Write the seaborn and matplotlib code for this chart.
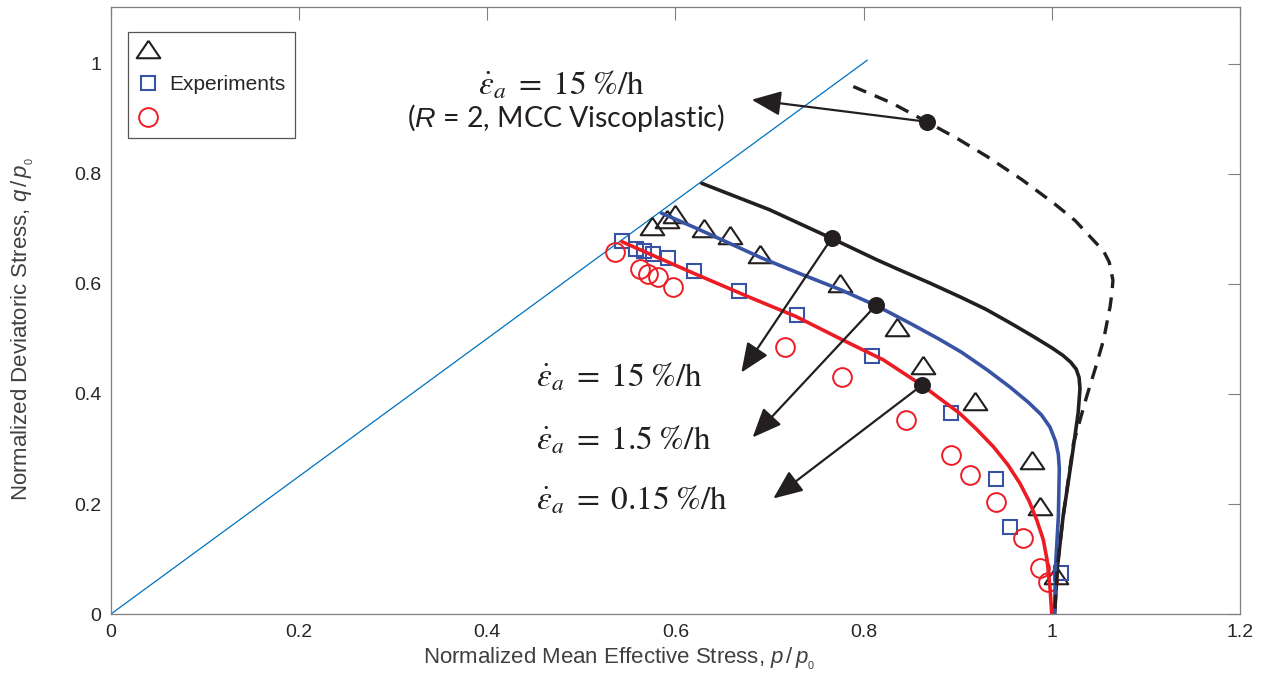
import numpy as np
import matplotlib
matplotlib.use("Agg")
import matplotlib.pyplot as plt
import seaborn as sns

# ---------------------------------------------------------------
# data (p/p0 , q/p0)
# ---------------------------------------------------------------
csl_p = [0.0, 0.804]
csl_q = [0.0, 1.007]

# experiments
tri_p = [0.575, 0.591, 0.600, 0.630, 0.658, 0.690, 0.775, 0.835, 0.863, 0.918, 0.979, 0.987, 1.005]
tri_q = [0.706, 0.718, 0.728, 0.701, 0.689, 0.654, 0.601, 0.522, 0.453, 0.388, 0.280, 0.196, 0.071]
sq_p = [0.543, 0.558, 0.567, 0.576, 0.592, 0.620, 0.668, 0.729, 0.809, 0.893, 0.941, 0.956, 1.010]
sq_q = [0.678, 0.664, 0.660, 0.655, 0.647, 0.624, 0.587, 0.544, 0.469, 0.365, 0.245, 0.159, 0.074]
circ_p = [0.536, 0.562, 0.571, 0.581, 0.597, 0.716, 0.777, 0.845, 0.893, 0.913, 0.941, 0.969, 0.987, 0.996]
circ_q = [0.659, 0.627, 0.619, 0.612, 0.595, 0.486, 0.431, 0.353, 0.289, 0.253, 0.204, 0.138, 0.083, 0.059]

# simulations
sim15_p = [0.628, 0.700, 0.766, 0.814, 0.839, 0.870, 0.902, 0.930, 0.956, 0.980, 1.000, 1.012, 1.020,
           1.026, 1.029, 1.030, 1.028, 1.021, 1.012, 1.006, 1.003]
sim15_q = [0.783, 0.735, 0.683, 0.644, 0.625, 0.602, 0.577, 0.554, 0.529, 0.505, 0.484, 0.470, 0.458,
           0.445, 0.430, 0.410, 0.365, 0.280, 0.177, 0.086, 0.000]
sim1p5_p = [0.585, 0.620, 0.660, 0.692, 0.732, 0.775, 0.813, 0.850, 0.880, 0.904, 0.932, 0.956, 0.975,
            0.989, 0.998, 1.004, 1.007, 1.008, 1.007, 1.004, 1.003]
sim1p5_q = [0.729, 0.703, 0.672, 0.647, 0.619, 0.590, 0.561, 0.528, 0.500, 0.476, 0.443, 0.412, 0.385,
            0.362, 0.340, 0.314, 0.290, 0.265, 0.177, 0.086, 0.000]
sim015_p = [0.543, 0.580, 0.620, 0.680, 0.728, 0.778, 0.821, 0.862, 0.902, 0.920, 0.938, 0.953, 0.966,
            0.976, 0.984, 0.991, 0.995, 0.998, 1.000]
sim015_q = [0.677, 0.649, 0.619, 0.575, 0.541, 0.498, 0.462, 0.416, 0.365, 0.336, 0.304, 0.272, 0.238,
            0.205, 0.171, 0.135, 0.098, 0.050, 0.000]
mcc_p = [0.789, 0.830, 0.867, 0.900, 0.931, 0.968, 1.002, 1.025, 1.044, 1.055, 1.061, 1.065, 1.064,
         1.062, 1.055, 1.046, 1.037, 1.023, 1.012, 1.006, 1.003]
mcc_q = [0.959, 0.929, 0.895, 0.864, 0.832, 0.790, 0.747, 0.715, 0.680, 0.660, 0.640, 0.607, 0.585,
         0.559, 0.498, 0.445, 0.395, 0.310, 0.177, 0.086, 0.000]

# marked points and arrow tips
dot_p = [0.867, 0.766, 0.813, 0.862]
dot_q = [0.895, 0.683, 0.561, 0.416]
tip_p = [0.681, 0.670, 0.682, 0.704]
tip_q = [0.935, 0.439, 0.321, 0.210]

rate_labels = [r'$\dot{\varepsilon}_a\;=\;15\;\%/\mathrm{h}$',
               r'$\dot{\varepsilon}_a\;=\;1.5\;\%/\mathrm{h}$',
               r'$\dot{\varepsilon}_a\;=\;0.15\;\%/\mathrm{h}$']
rate_q = [0.431, 0.316, 0.207]

xticks = [0, 0.2, 0.4, 0.6, 0.8, 1.0, 1.2]
yticks = [0, 0.2, 0.4, 0.6, 0.8, 1.0]

# ---------------------------------------------------------------
sns.set_theme(style="white")
plt.rcParams['font.family'] = ['Liberation Sans', 'DejaVu Sans']
plt.rcParams['mathtext.fontset'] = 'stix'
plt.rcParams['mathtext.it'] = 'Liberation Sans:italic'
plt.rcParams['mathtext.rm'] = 'Liberation Sans'

BLACK = '#231f20'
BLUE = '#3953a4'
RED = '#ed1c24'
GREY = '#7f7f7f'
TXT = '#262626'

fig = plt.figure(figsize=(12.65, 6.92), dpi=100)
ax = fig.add_axes([0.0877, 0.1127, 0.8925, 0.8772])

# critical state line
sns.lineplot(x=csl_p, y=csl_q, color='#0072bd', lw=0.9, sort=False, estimator=None, ax=ax)

# experiments
tri_marker = [(0, 0.74), (-1, -0.74), (1, -0.74), (0, 0.74)]
sns.lineplot(x=tri_p, y=tri_q, sort=False, estimator=None, ax=ax, linestyle='',
             marker=tri_marker, ms=17, mfc='none', mec=BLACK, mew=1.5)
sns.lineplot(x=sq_p, y=sq_q, sort=False, estimator=None, ax=ax, linestyle='',
             marker='s', ms=10.5, mfc='none', mec=BLUE, mew=1.5)
sns.lineplot(x=circ_p, y=circ_q, sort=False, estimator=None, ax=ax, linestyle='',
             marker='o', ms=13.5, mfc='none', mec=RED, mew=1.4)
exp_handles = ax.lines[-3:]

# simulations
sns.lineplot(x=sim15_p, y=sim15_q, sort=False, estimator=None, color=BLACK, lw=2.6, ax=ax)
sns.lineplot(x=sim1p5_p, y=sim1p5_q, sort=False, estimator=None, color=BLUE, lw=2.6, ax=ax)
sns.lineplot(x=sim015_p, y=sim015_q, sort=False, estimator=None, color=RED, lw=2.6, ax=ax)
sns.lineplot(x=mcc_p, y=mcc_q, sort=False, estimator=None, color=BLACK, lw=2.4,
             linestyle=(0, (4.2, 2.8)), ax=ax)

# arrows from the marked points
for tp, tq, dp, dq in zip(tip_p, tip_q, dot_p, dot_q):
    ax.annotate('', xy=(tp, tq), xytext=(dp, dq),
                arrowprops=dict(arrowstyle='-|>,head_length=0.9,head_width=0.38',
                                color=BLACK, lw=1.6, mutation_scale=20,
                                shrinkA=0, shrinkB=0))
sns.scatterplot(x=dot_p, y=dot_q, color=BLACK, s=150, edgecolor=BLACK, linewidth=0,
                zorder=5, ax=ax)

# annotations
ax.text(0.479, 0.962, rate_labels[0], fontsize=24,
        ha='center', va='center', color=BLACK)
ax.text(0.484, 0.901, r'($R$ = 2, MCC Viscoplastic)', fontsize=20.5, family='Lato',
        math_fontfamily='custom', ha='center', va='center', color=BLACK)
for lab, q in zip(rate_labels, rate_q):
    ax.text(0.452, q, lab, fontsize=24, ha='left', va='center', color=BLACK)

# axes styling (MATLAB-like box with inward ticks)
ax.set_xlim(0, 1.2)
ax.set_ylim(0, 1.1036)
ax.set_xticks(xticks)
ax.set_yticks(yticks)
ax.set_xticklabels(['%g' % t for t in xticks])
ax.set_yticklabels(['%g' % t for t in yticks])
ax.tick_params(direction='in', length=9, width=0.8, color=GREY, labelcolor=TXT,
               labelsize=14, top=True, right=True, pad=7)
for s in ax.spines.values():
    s.set_color(GREY)
    s.set_linewidth(0.9)

ax.set_xlabel(r'Normalized Mean Effective Stress, $p\,/\,p_{_{0}}$', fontsize=16,
              color='#404040', math_fontfamily='custom')
ax.set_ylabel(r'Normalized Deviatoric Stress, $q\,/\,p_{_{0}}$', fontsize=16,
              color='#404040', math_fontfamily='custom')
ax.xaxis.set_label_coords(0.45, -0.052)
ax.yaxis.set_label_coords(-0.066, 0.47)

leg = ax.legend(exp_handles, ['', 'Experiments', ''], loc='upper left',
                bbox_to_anchor=(0.015, 0.959), fontsize=15, frameon=True,
                fancybox=False, framealpha=1, edgecolor='#555555',
                handlelength=1.0, handletextpad=0.55, labelspacing=0.72,
                borderpad=0.45, borderaxespad=0)
leg.get_frame().set_linewidth(0.9)
for t in leg.get_texts():
    t.set_color(TXT)

fig.savefig('out.png', dpi=100)
